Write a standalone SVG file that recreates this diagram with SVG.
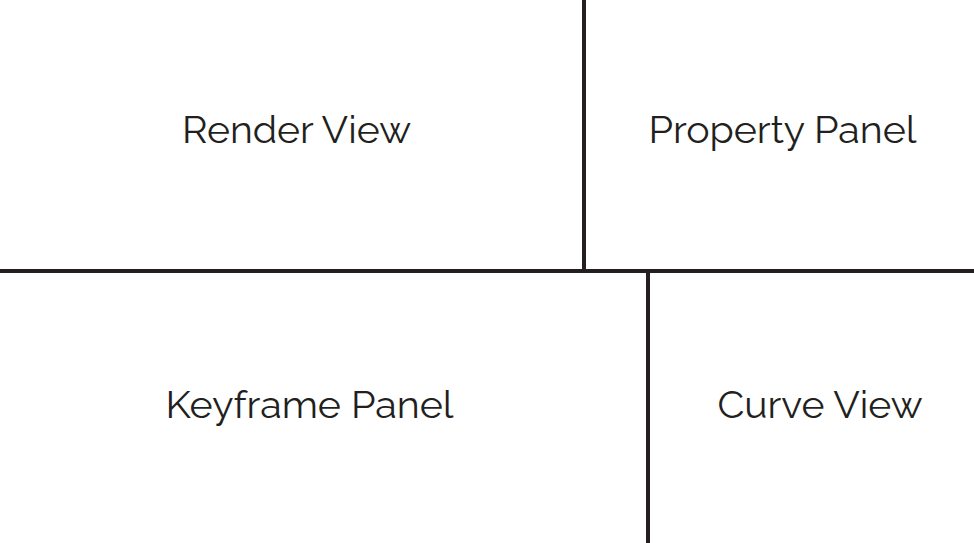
<svg xmlns="http://www.w3.org/2000/svg" width="974" height="543" viewBox="0 0 974 543">
<style>
.l{stroke:#231f20;stroke-width:4;fill:none}
.t{font-family:"Raleway","Lato","Open Sans","Liberation Sans",sans-serif;font-size:38px;fill:#231f20;text-anchor:middle}
</style>
<rect width="974" height="543" fill="#fff"/>
<g id="connectors">
<line class="l" x1="0" y1="271" x2="974" y2="271"/>
<line class="l" x1="584" y1="0" x2="584" y2="271"/>
<line class="l" x1="648" y1="271" x2="648" y2="543"/>
</g>
<g id="render-view"><text class="t" x="296.5" y="143" textLength="229" lengthAdjust="spacingAndGlyphs">Render View</text></g>
<g id="property-panel"><text class="t" x="782.5" y="143" textLength="268" lengthAdjust="spacingAndGlyphs">Property Panel</text></g>
<g id="keyframe-panel"><text class="t" x="309.5" y="418" textLength="288" lengthAdjust="spacingAndGlyphs">Keyframe Panel</text></g>
<g id="curve-view"><text class="t" x="820" y="418" textLength="205" lengthAdjust="spacingAndGlyphs">Curve View</text></g>
</svg>
